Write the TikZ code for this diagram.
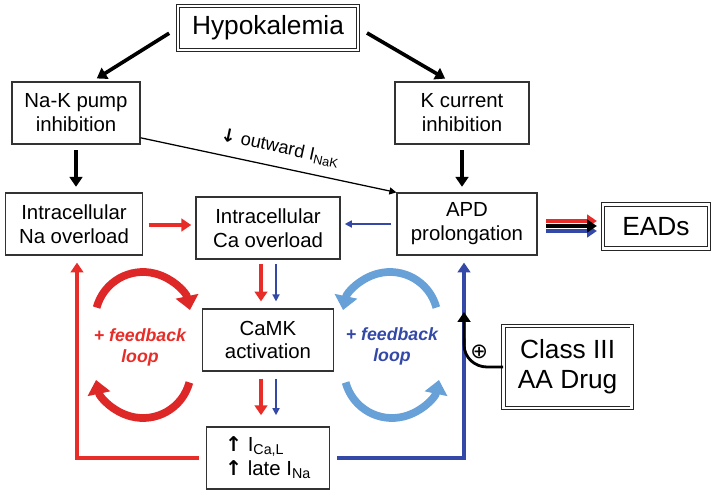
\documentclass[tikz,border=0pt]{standalone}
\usepackage{fontspec}
\setmainfont{Liberation Sans}
\newfontfamily\symfont{DejaVu Sans}
\usetikzlibrary{arrows.meta,calc}
\definecolor{linered}{RGB}{232,44,40}
\definecolor{lineblue}{RGB}{52,72,168}
\definecolor{loopred}{RGB}{222,40,40}
\definecolor{loopblue}{RGB}{104,160,216}
\tikzset{
  box/.style={draw=black!80, line width=0.8pt, align=center, inner sep=0pt, font=\fontsize{14.5}{17}\selectfont},
  dbox/.style={draw=black!85, double=white, double distance=1.6pt, line width=0.7pt, align=center, inner sep=0pt, font=\fontsize{18.7}{21.5}\selectfont},
  heavyarrow/.style={line width=2.6pt, -{Triangle[width=9pt,length=7pt]}},
  lightarrow/.style={line width=1.1pt, -{Triangle[width=5pt,length=5pt]}},
  looparc/.style={line width=5.5pt, -{Triangle[width=16pt,length=10pt]}},
  looptext/.style={align=center, font=\fontsize{12.6}{15}\selectfont\bfseries\itshape}
}
\begin{document}
\begin{tikzpicture}
		\useasboundingbox (0,0) rectangle (17.9,12.4);
		%%%%% BOXES %%%%%
		
		\node[dbox, minimum width=4.5cm, minimum height=1.1cm] (hypo) at (6.7,11.7) {Hypokalemia};
		\node[box, minimum width=3.2cm, minimum height=1.55cm] (nakpump) at (1.9,9.575) {Na-K pump\\inhibition};
		\node[box, minimum width=3.35cm, minimum height=1.55cm] (kcurr) at (11.55,9.575) {K current\\inhibition};
		
		\node[box, minimum width=3.425cm, minimum height=1.55cm] (naover) at (1.85,6.8) {Intracellular\\Na overload};
		\node[box, minimum width=3.6cm, minimum height=1.55cm] (caover) at (6.7,6.7) {Intracellular\\Ca overload};
		\node[box, minimum width=3.5cm, minimum height=1.55cm] (apd) at (11.675,6.8) {APD\\prolongation};
		\node[dbox, minimum width=2.65cm, minimum height=1.1cm] (eads) at (16.4,6.74) {EADs};
		
		\node[box, minimum width=3.275cm, minimum height=1.55cm] (camk) at (6.7,3.9) {CaMK\\activation};
		\node[box, minimum width=3.075cm, minimum height=1.55cm, align=left] (ibox) at (6.7,0.95) {{\symfont\bfseries ↑} I\textsubscript{Ca,L}\\{\symfont\bfseries ↑} late I\textsubscript{Na}};
		\node[dbox, minimum width=3.2cm, minimum height=2.05cm] (drug) at (14.19,3.225) {Class III\\AA Drug};
		
		%%%%% ARROWS %%%%%
		
		\draw[heavyarrow, shorten <=7pt, shorten >=4pt] (hypo.west) -- ([xshift=0.4cm]nakpump.north);
		\draw[heavyarrow, shorten <=7pt, shorten >=4pt] (hypo.east) -- ([xshift=-0.3cm]kcurr.north);
		\draw[heavyarrow, shorten <=4pt, shorten >=4pt] (nakpump.south) -- (nakpump.south |- naover.north);
		\draw[heavyarrow, shorten <=4pt, shorten >=4pt] (kcurr.south) -- (kcurr.south |- apd.north);
		
		\draw[lightarrow, line width=0.9pt] (nakpump.-21) -- (apd.north west)
			node[pos=0.53, above=4pt, sloped, font=\fontsize{13}{13}\selectfont] {{\symfont\bfseries ↓} outward I\textsubscript{NaK}};
		
		\draw[heavyarrow, linered, line width=2.4pt, shorten <=4pt, shorten >=3pt] ([yshift=-0.025cm]naover.east) -- ([yshift=-0.025cm]naover.east -| caover.west);
		\draw[lightarrow, lineblue, shorten <=4pt, shorten >=3pt] (apd.west) -- (apd.west -| caover.east);
		
		\draw[heavyarrow, linered, line width=3.4pt, shorten <=6pt, shorten >=4pt] ([yshift=0.075cm]apd.east) -- ([yshift=0.075cm]apd.east -| eads.west);
		\draw[heavyarrow, lineblue, line width=3.4pt, shorten <=6pt, shorten >=4pt] ([yshift=-0.175cm]apd.east) -- ([yshift=-0.175cm]apd.east -| eads.west);
		\draw[heavyarrow, black, line width=3.4pt, shorten <=6pt, shorten >=4pt] ([yshift=-0.05cm]apd.east) -- ([yshift=-0.05cm]apd.east -| eads.west);
		
		\draw[heavyarrow, linered, line width=2.4pt, shorten <=3pt, shorten >=5pt] ([xshift=-0.175cm]caover.south) -- ([xshift=-0.175cm]caover.south |- camk.north);
		\draw[lightarrow, lineblue, shorten <=3pt, shorten >=5pt] ([xshift=0.2cm]caover.south) -- ([xshift=0.2cm]caover.south |- camk.north);
		\draw[heavyarrow, linered, line width=2.4pt, shorten <=5pt, shorten >=8pt] ([xshift=-0.175cm]camk.south) -- ([xshift=-0.175cm]camk.south |- ibox.north);
		\draw[lightarrow, lineblue, shorten <=5pt, shorten >=8pt] ([xshift=0.2cm]camk.south) -- ([xshift=0.2cm]camk.south |- ibox.north);
		
		\draw[heavyarrow, linered, line width=2.2pt, shorten <=5pt, shorten >=5pt] (ibox.west) -| ([xshift=0.075cm]naover.south);
		\draw[heavyarrow, lineblue, line width=2.2pt, shorten <=5pt, shorten >=5pt] (ibox.east) -| ([xshift=-0.075cm]apd.south);
		
		\coordinate (drugtip) at (11.6,4.6);
		\draw[heavyarrow, line width=2pt] (drug.west) -- ++(-0.4,0) to[out=180, in=-90] ++(-0.575,0.55) -- (drugtip);
		\node[font=\symfont\fontsize{15}{15}\selectfont] (plus) at (11.98,3.6) {⊕};
		
		%%%%% FEEDBACK LOOPS %%%%%
		
		\draw[looparc, loopred] (3.575,4.4) ++(165:1.2) arc[start angle=165, end angle=12, radius=1.2];
		\draw[looparc, loopred] (3.575,3.15) ++(-15:1.2) arc[start angle=-15, end angle=-168, radius=1.2];
		\node[looptext, text=linered] (redloop) at (3.5,3.725) {+ feedback\\loop};
		
		\draw[looparc, loopblue] (9.75,4.4) ++(15:1.2) arc[start angle=15, end angle=168, radius=1.2];
		\draw[looparc, loopblue] (9.8,3.15) ++(-165:1.2) arc[start angle=-165, end angle=-12, radius=1.2];
		\node[looptext, text=lineblue] (blueloop) at (9.8,3.75) {+ feedback\\loop};
		
		%%%%% END %%%%%
	\end{tikzpicture}
\end{document}
